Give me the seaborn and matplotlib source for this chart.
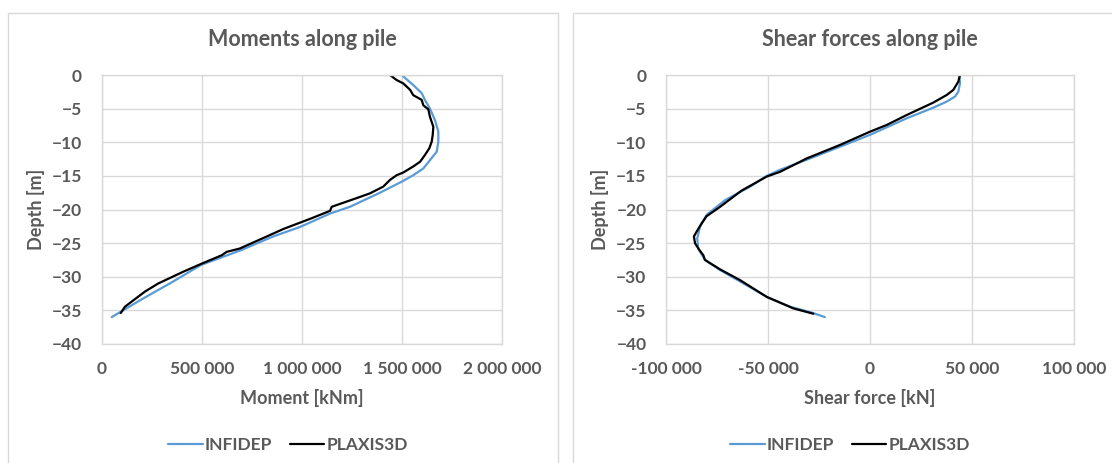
import numpy as np
import pandas as pd
import matplotlib
matplotlib.use("Agg")
import matplotlib.pyplot as plt
from matplotlib.patches import Rectangle
from matplotlib.ticker import FuncFormatter, MultipleLocator
import seaborn as sns

# ---- Moments along pile (kNm) ----
m_infidep_depth = [0, -1.5, -2.7, -3.7, -5.0, -6.7, -8.4, -9.9, -11.4, -12.6, -13.9, -14.9,
                   -15.9, -17.5, -19.6, -20.6, -22.6, -24.0, -26.0, -28.25, -30.7, -33.5, -36.0]
m_infidep = [1497000, 1555000, 1597000, 1613000, 1638000, 1663000, 1680000, 1680000, 1672000,
             1640000, 1605000, 1555000, 1495000, 1389000, 1239000, 1140000, 990000, 857000,
             700000, 496000, 358000, 192000, 51000]

m_plaxis_depth = [0, -0.75, -1.25, -2.2, -3.0, -3.7, -4.5, -5.1, -6.2, -7.7, -8.9, -9.9, -10.9,
                  -11.9, -12.9, -13.6, -14.5, -14.9, -15.6, -16.6, -17.6, -18.3, -19.6, -20.2,
                  -21.3, -22.9, -23.8, -25.8, -26.3, -26.8, -28.1, -29.25, -31.0, -32.2, -34.45,
                  -35.4]
m_plaxis = [1439000, 1472000, 1505000, 1539000, 1555000, 1597000, 1605000, 1630000, 1638000,
            1655000, 1652000, 1647000, 1635000, 1613000, 1589000, 1555000, 1505000, 1472000,
            1439000, 1405000, 1339000, 1273000, 1148000, 1140000, 1048000, 907000, 840000,
            690000, 624000, 600000, 496000, 408000, 283000, 217000, 117000, 96000]

# ---- Shear forces along pile (kN) ----
v_infidep_depth = [0, -1.24, -2.48, -3.2, -3.96, -4.86, -6.44, -8.9, -10.66, -12.6, -14.1,
                   -15.0, -16.6, -18.6, -20.8, -22.55, -24.3, -25.8, -27.5, -29.0, -30.7,
                   -33.0, -34.45, -35.4, -36.0]
v_infidep = [43800, 44100, 43300, 41700, 37600, 31000, 18000, 0, -14700, -31000, -44100,
             -50600, -58800, -71000, -80100, -83300, -84700, -84200, -80900, -73500, -63700,
             -50600, -39200, -27800, -22100]

v_plaxis_depth = [0, -0.99, -2.23, -2.97, -4.11, -5.95, -7.43, -8.43, -10.4, -12.4, -14.4,
                  -15.1, -17.2, -19.6, -21.0, -22.05, -23.3, -24.0, -25.0, -26.0, -26.8,
                  -27.5, -28.9, -30.5, -33.0, -34.7, -35.5]
v_plaxis = [44100, 43300, 40800, 37600, 31000, 18000, 8200, 0, -14700, -31000, -44100,
            -50600, -63000, -73500, -80100, -82500, -85000, -86300, -85800, -83700, -81700,
            -80900, -73500, -63700, -50600, -37600, -27800]

series_names = ["INFIDEP", "PLAXIS3D"]
series_colors = {"INFIDEP": "#5b9bd5", "PLAXIS3D": "#000000"}


def to_frame(values_a, depth_a, values_b, depth_b, col):
    a = pd.DataFrame({col: values_a, "Depth": depth_a, "Series": series_names[0]})
    b = pd.DataFrame({col: values_b, "Depth": depth_b, "Series": series_names[1]})
    return pd.concat([a, b], ignore_index=True)


moment_df = to_frame(m_infidep, m_infidep_depth, m_plaxis, m_plaxis_depth, "Moment")
shear_df = to_frame(v_infidep, v_infidep_depth, v_plaxis, v_plaxis_depth, "Shear")

sns.set_theme(style="white")
plt.rcParams["font.family"] = ["Lato", "DejaVu Sans"]

TEXT = "#595959"
GRID = "#d9d9d9"

fig = plt.figure(figsize=(11.12, 4.63), dpi=100)
W, H = 1112, 463

# chart frames
fig.patches.append(Rectangle((8 / W, 0 - 0.01), 550 / W, 1 - 13 / H + 0.01,
                             transform=fig.transFigure, fill=False, edgecolor=GRID, lw=1))
fig.patches.append(Rectangle((573 / W, 0 - 0.01), 560 / W, 1 - 13 / H + 0.01,
                             transform=fig.transFigure, fill=False, edgecolor=GRID, lw=1))

bottom = 1 - 344 / H
height = (344 - 75) / H
ax1 = fig.add_axes([101.5 / W, bottom, (502.5 - 101.5) / W, height])
ax2 = fig.add_axes([666 / W, bottom, (1074 - 666) / W, height])


def space_thousands(x, pos):
    s = f"{abs(int(round(x))):,}".replace(",", " ")
    return ("-" if x < 0 else "") + s


def style_axes(ax, title, xlabel, xlim, xstep):
    ax.set_xlim(*xlim)
    ax.set_ylim(-40, 0)
    ax.xaxis.set_major_locator(MultipleLocator(xstep))
    ax.yaxis.set_major_locator(MultipleLocator(5))
    ax.xaxis.set_major_formatter(FuncFormatter(space_thousands))
    ax.grid(True, color=GRID, lw=1)
    ax.set_axisbelow(True)
    for sp in ax.spines.values():
        sp.set_color(GRID)
        sp.set_linewidth(1)
    ax.tick_params(length=0, labelsize=12.5, labelcolor=TEXT)
    ax.tick_params(axis="x", pad=12)
    ax.tick_params(axis="y", pad=14)
    for lab in ax.get_xticklabels() + ax.get_yticklabels():
        lab.set_fontweight("bold")
    ax.set_title(title, fontsize=15.5, fontweight="bold", color=TEXT, pad=21)
    ax.set_xlabel(xlabel, fontsize=13, fontweight="bold", color=TEXT, labelpad=9)
    ax.set_ylabel("Depth [m]", fontsize=13, fontweight="bold", color=TEXT, labelpad=5)
    if ax.legend_:
        ax.legend_.remove()


sns.lineplot(data=moment_df, x="Moment", y="Depth", hue="Series", palette=series_colors,
             sort=False, estimator=None, lw=1.6, ax=ax1)
sns.lineplot(data=shear_df, x="Shear", y="Depth", hue="Series", palette=series_colors,
             sort=False, estimator=None, lw=1.6, ax=ax2)

handles, labels = ax1.get_legend_handles_labels()
style_axes(ax1, "Moments along pile", "Moment [kNm]", (0, 2000000), 500000)
style_axes(ax2, "Shear forces along pile", "Shear force [kN]", (-100000, 100000), 50000)

for cx in (288 / W, 850 / W):
    leg = fig.legend(handles, labels, loc="center", bbox_to_anchor=(cx, 1 - 445 / H),
                     ncol=2, frameon=False, handlelength=2.0, handletextpad=0.1,
                     columnspacing=1.0, prop={"size": 12.5, "weight": "bold"})
    for t in leg.get_texts():
        t.set_color(TEXT)

fig.savefig("out.png", dpi=100)
